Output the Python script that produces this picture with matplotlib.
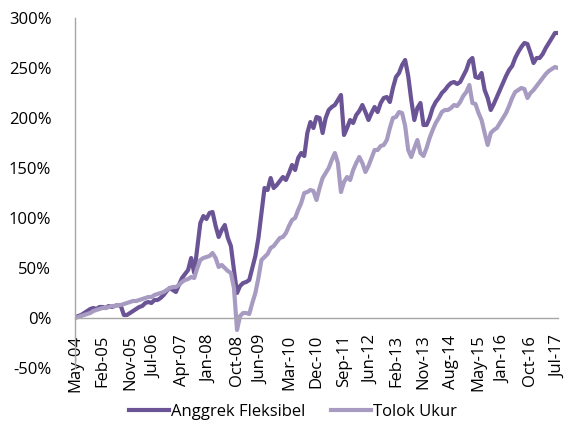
import matplotlib
matplotlib.use("Agg")
from matplotlib import pyplot as plt
import matplotlib.ticker as ticker
import numpy as np

# %% --------------- DATA ---------------------------------------------------- #
tick_months = [0, 9, 18, 26, 35, 44, 53, 61, 70, 79, 88, 97, 105, 114, 123, 132, 140, 149, 158]
tick_labels = ["May-04", "Feb-05", "Nov-05", "Jul-06", "Apr-07", "Jan-08", "Oct-08", "Jun-09",
               "Mar-10", "Dec-10", "Sep-11", "Jun-12", "Feb-13", "Nov-13", "Aug-14", "May-15",
               "Jan-16", "Oct-16", "Jul-17"]

# monthly cumulative return (%), May-04 .. Jul-17
anggrek = [0, 2, 3, 5, 7, 9, 10, 9, 11, 11, 10, 12, 11, 12, 13, 12, 3, 3, 5, 7,
           9, 11, 12, 15, 16, 15, 18, 18, 20, 23, 27, 30, 28, 26, 33, 40, 44, 48, 60, 45,
           70, 95, 102, 99, 105, 106, 92, 81, 88, 93, 80, 72, 48, 25, 32, 35, 36, 38, 50, 62,
           80, 105, 130, 128, 140, 130, 133, 137, 141, 138, 145, 153, 148, 160, 165, 162, 185, 196, 190, 201,
           200, 185, 200, 208, 211, 213, 218, 223, 183, 190, 198, 195, 203, 207, 213, 206, 198, 205, 211, 206,
           215, 220, 221, 216, 230, 241, 245, 253, 258, 242, 218, 198, 210, 215, 193, 193, 200, 210, 216, 220,
           225, 228, 232, 235, 236, 234, 236, 242, 248, 257, 260, 241, 240, 245, 228, 220, 208, 214, 221, 228,
           235, 242, 248, 252, 260, 266, 271, 275, 274, 265, 255, 260, 260, 264, 270, 275, 280, 285, 285]
tolok = [0, 1, 2, 3, 4, 5, 7, 8, 9, 10, 10, 11, 12, 12, 13, 13, 14, 15, 16, 17,
         17, 18, 19, 20, 21, 21, 23, 24, 25, 26, 28, 30, 31, 31, 33, 36, 38, 39, 41, 40,
         50, 58, 60, 61, 62, 65, 60, 51, 53, 50, 47, 45, 30, -12, 2, 5, 5, 4, 15, 25,
         40, 58, 61, 64, 70, 72, 76, 80, 81, 85, 92, 98, 100, 108, 115, 125, 126, 128, 127, 118,
         130, 140, 145, 150, 158, 165, 155, 126, 136, 141, 138, 148, 155, 161, 155, 146, 152, 160, 168, 168,
         172, 173, 178, 190, 200, 201, 206, 205, 192, 168, 161, 170, 178, 165, 162, 170, 180, 188, 195, 200,
         206, 208, 208, 210, 213, 212, 216, 222, 226, 233, 215, 214, 205, 198, 185, 173, 185, 188, 190, 195,
         200, 205, 212, 220, 226, 228, 230, 229, 220, 225, 228, 232, 236, 240, 244, 247, 249, 251, 250]

# %% --------------- PLOT ---------------------------------------------------- #
plt.rcParams["font.family"] = ["Open Sans", "DejaVu Sans"]
plt.rcParams["axes.unicode_minus"] = False

fig = plt.figure(figsize=(5.66, 4.32), dpi=100)
ax = fig.add_axes([75 / 566, 1 - 368 / 432, 483 / 566, 350 / 432])

months = np.arange(len(anggrek))
ax.plot(months, np.array(anggrek) / 100, color="#6b5496", lw=3.0, label="Anggrek Fleksibel",
        solid_joinstyle="round")
ax.plot(months, np.array(tolok) / 100, color="#a89bc2", lw=3.0, label="Tolok Ukur",
        solid_joinstyle="round")

ax.set_xlim(0, 158)
ax.set_ylim(-0.5, 3.0)
ax.set_yticks(np.arange(-0.5, 3.01, 0.5))
ax.yaxis.set_major_formatter(ticker.PercentFormatter(1.0, decimals=0))
ax.set_xticks(tick_months)
ax.set_xticklabels(tick_labels)

for s in ["top", "right"]:
    ax.spines[s].set_visible(False)
ax.spines["bottom"].set_position(("data", 0))
for s in ["bottom", "left"]:
    ax.spines[s].set_color("#a6a6a6")
    ax.spines[s].set_linewidth(1.0)

ax.tick_params(axis="both", length=0, labelsize=12, colors="black")
ax.tick_params(axis="x", pad=12, labelrotation=90)
ax.tick_params(axis="y", pad=17)

ax.legend(loc="center", bbox_to_anchor=(0.451, -0.125), ncol=2, frameon=False,
          handlelength=2.4, columnspacing=1.5, handletextpad=0.15, fontsize=12)

fig.savefig("out.png", dpi=100)
